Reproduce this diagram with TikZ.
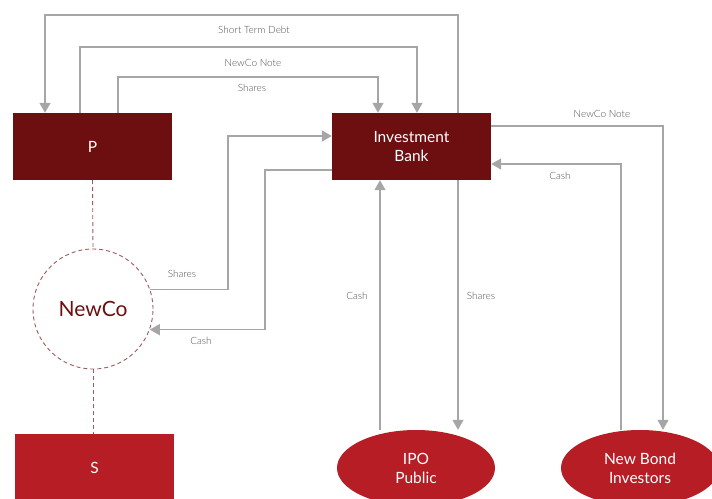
\documentclass[tikz,border=0pt]{standalone}
\usepackage{fontspec}
\setmainfont{Lato}
\newfontfamily\lightfont{Lato Light}
\usepackage{xcolor}
\usetikzlibrary{shapes.geometric, arrows.meta}
\definecolor{darkred}{HTML}{6D0F11}
\definecolor{brightred}{HTML}{B71D25}
\definecolor{linegray}{HTML}{A6A6A6}
\definecolor{textgray}{HTML}{505050}
\definecolor{dashred}{HTML}{9E5A5C}
\tikzset{
  entity/.style={rectangle, fill=darkred, text=white, minimum width=159pt, minimum height=67pt, inner sep=0pt, align=center, font=\fontsize{15.5}{19}\selectfont},
  market/.style={ellipse, fill=brightred, text=white, minimum width=158pt, minimum height=76pt, inner sep=0pt, align=center, font=\fontsize{15.5}{19}\selectfont},
  flow/.style={draw=linegray, line width=1.4pt, -{Triangle[length=10pt,width=11pt]}},
  lbl/.style={text=textgray, font=\lightfont\fontsize{10}{12}\selectfont, inner sep=0pt},
  owns/.style={draw=dashred, dash pattern=on 4pt off 3pt, line width=0.9pt}
}

\begin{document}
\begin{tikzpicture}[x=1pt, y=-1pt]
        \useasboundingbox (0,0) rectangle (712,498);

        % parties
        \node[entity] (P) at (92.5,146.5) {P};
        \node[entity] (IB) at (411.5,146.5) {Investment\\Bank};
        \node[entity, fill=brightred] (S) at (94.5,467.5) {S};
        \node[circle, owns, minimum size=120pt, text=darkred, font=\fontsize{21}{25}\selectfont] (NewCo) at (93,309) {NewCo};
        \node[market] (IPO) at (416,468) {IPO\\Public};
        \node[market] (NBI) at (640,468) {New Bond\\Investors};

        % ownership
        \draw[owns] (P.south) -- (NewCo.north);
        \draw[owns] (NewCo.south) -- (NewCo.south |- S.north);

        % flows between P and the bank
        \draw[flow] ([xshift=46.5pt]IB.north) -- ++(0,-98) -| ([xshift=-47.5pt]P.north);
        \draw[flow] ([xshift=-12.5pt]P.north) -- ++(0,-66) -| ([xshift=5.5pt]IB.north);
        \draw[flow] ([xshift=25.5pt]P.north) -- ++(0,-36) -| ([xshift=-33.5pt]IB.north);

        % flows between NewCo and the bank
        \draw[flow] (NewCo.19) -- ++(78,0) |- ([yshift=10.5pt]IB.west);
        \draw[flow] ([yshift=-23.5pt]IB.west) -- ++(-67,0) |- (NewCo.-20.5);

        % flows with the markets
        \draw[flow] ([xshift=-36pt]IPO.north) -- ([xshift=-31.5pt]IB.south);
        \draw[flow] ([xshift=46.5pt]IB.south) -- ([xshift=46.5pt]IB.south |- IPO.north);
        \draw[flow] ([yshift=20.5pt]IB.east) -| ([xshift=23pt]NBI.north);
        \draw[flow] ([xshift=-19pt]NBI.north) |- ([yshift=-17.5pt]IB.east);

        % labels
        \node[lbl] (stdebt) at (254,30) {Short Term Debt};
        \node[lbl] (pnote) at (253,63) {NewCo Note};
        \node[lbl] (pshares) at (252,88) {Shares};
        \node[lbl] (nshares) at (182,274) {Shares};
        \node[lbl] (ncash) at (201,341) {Cash};
        \node[lbl] (ipocash) at (357,296) {Cash};
        \node[lbl] (iposhares) at (481,296) {Shares};
        \node[lbl] (bnote) at (602,114) {NewCo Note};
        \node[lbl] (bcash) at (560,176) {Cash};
    \end{tikzpicture}
\end{document}
